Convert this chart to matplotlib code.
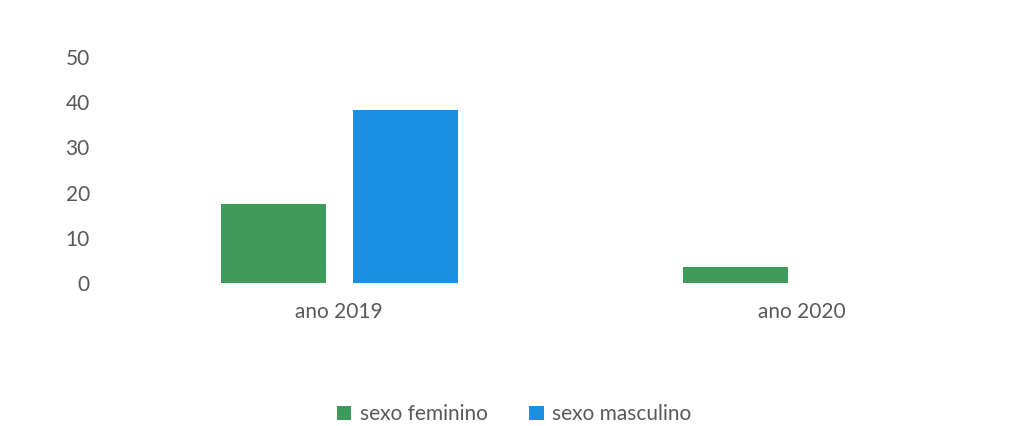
import matplotlib.pyplot as plt
import numpy as np

plt.rcParams['font.family'] = ['Lato', 'DejaVu Sans']

anos = ["ano 2019", "ano 2020"]
feminino = [17.5, 3.5]
masculino = [38.2, 0]

verde = "#3f9b5c"
azul = "#1a8fe3"
cinza = "#595959"

fig = plt.figure(figsize=(10.28, 4.26), dpi=100)
ax = fig.add_axes([0.105, 0.336, 0.9, 0.53])

x = np.arange(len(anos))
w = 0.227
off = 0.143
ax.bar(x - off, feminino, w, color=verde, label="sexo feminino")
ax.bar(x + off, masculino, w, color=azul, label="sexo masculino")

ax.set_xlim(-0.5, 1.5)
ax.set_ylim(0, 50)
ax.set_yticks([0, 10, 20, 30, 40, 50])
ax.set_xticks(x)
ax.set_xticklabels(anos)
for s in ax.spines.values():
    s.set_visible(False)
ax.tick_params(length=0, labelsize=15, colors=cinza, pad=13)
ax.tick_params(axis="x", pad=14)

fig.legend(loc="lower center", bbox_to_anchor=(0.5, -0.04), ncol=2, frameon=False,
           fontsize=15, handlelength=0.7, handleheight=0.7, columnspacing=2.0,
           handletextpad=0.4, labelcolor=cinza)

fig.savefig("out.png")
